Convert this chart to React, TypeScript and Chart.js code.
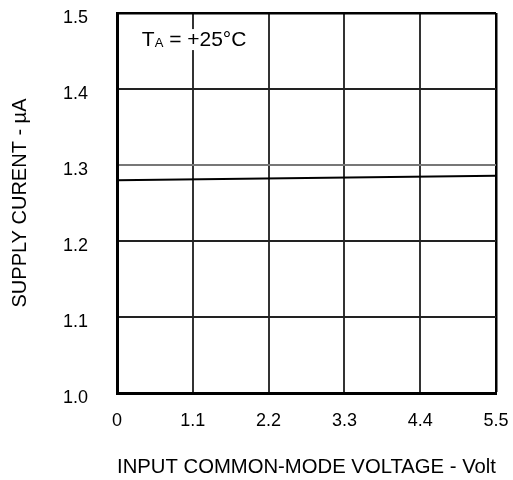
import { useEffect, useRef } from 'react';
import { Chart, registerables } from 'chart.js';

Chart.register(...registerables);

// ---- data ----
const voltage = [0, 5.5];
const supplyCurrent = [1.28, 1.286];
const xTicks = [0, 1.1, 2.2, 3.3, 4.4, 5.5];
const xTickLabels = ['0', '1.1', '2.2', '3.3', '4.4', '5.5'];
const yTicks = [1.0, 1.1, 1.2, 1.3, 1.4, 1.5];
const yTickLabels = ['1.0', '1.1', '1.2', '1.3', '1.4', '1.5'];
const xTitle = 'INPUT COMMON-MODE VOLTAGE - Volt';
const yTitle = 'SUPPLY CURENT - µA';
const noteMain = 'T';
const noteSub = 'A';
const noteRest = ' = +25°C';
const noteAt = { x: 0.36, y: 1.467 };

const FONT = "'Liberation Sans', Arial, Helvetica, sans-serif";

const notePlugin = {
  id: 'tempNote',
  afterDatasetsDraw(chart: any) {
    const { ctx, scales } = chart;
    const px = scales.x.getPixelForValue(noteAt.x);
    const py = scales.y.getPixelForValue(noteAt.y);
    ctx.save();
    ctx.font = `21px ${FONT}`;
    const w1 = ctx.measureText(noteMain).width;
    const w3 = ctx.measureText(noteRest).width;
    ctx.font = `13px ${FONT}`;
    const w2 = ctx.measureText(noteSub).width;
    ctx.fillStyle = '#fff';
    ctx.fillRect(px - 2, py - 9, w1 + w2 + w3 + 4, 21);
    ctx.fillStyle = '#000';
    ctx.textBaseline = 'alphabetic';
    ctx.textAlign = 'left';
    const base = py + 7.5;
    ctx.font = `21px ${FONT}`;
    ctx.fillText(noteMain, px, base);
    ctx.font = `13px ${FONT}`;
    ctx.fillText(noteSub, px + w1, base + 1.5);
    ctx.font = `21px ${FONT}`;
    ctx.fillText(noteRest, px + w1 + w2, base);
    ctx.restore();
  },
};

const zeroPadding = (s: any) => {
  s.paddingTop = 0;
  s.paddingBottom = 0;
  s.paddingLeft = 0;
  s.paddingRight = 0;
};

export default function App() {
  const ref = useRef<HTMLCanvasElement | null>(null);

  useEffect(() => {
    document.body.style.margin = '0';
    const canvas = ref.current;
    if (!canvas) return;
    const chart = new Chart(canvas, {
      type: 'line',
      data: {
        datasets: [
          {
            data: voltage.map((v, i) => ({ x: v, y: supplyCurrent[i] })),
            borderColor: '#000',
            borderWidth: 2,
            pointRadius: 0,
            fill: false,
            tension: 0,
          },
        ],
      },
      options: {
        responsive: false,
        animation: false,
        layout: { padding: { top: 13, right: 17, left: 0, bottom: 0 } },
        plugins: {
          legend: { display: false },
          tooltip: { enabled: false },
        },
        scales: {
          x: {
            type: 'linear',
            min: 0,
            max: 5.5,
            afterBuildTicks: (s: any) => {
              s.ticks = xTicks.map((v) => ({ value: v }));
            },
            afterFit: (s: any) => {
              s.height = 87;
              zeroPadding(s);
            },
            ticks: {
              callback: (_v: any, i: number) => xTickLabels[i],
              font: { family: FONT, size: 18 },
              color: '#000',
              padding: 17,
              maxRotation: 0,
              autoSkip: false,
            },
            grid: {
              drawTicks: false,
              color: (c: any) => (c.tick && c.tick.value === 5.5 ? '#000' : '#333'),
              lineWidth: (c: any) => (c.tick && c.tick.value === 5.5 ? 2.5 : 2),
            },
            border: { display: true, color: '#000', width: 3 },
            title: {
              display: true,
              text: xTitle,
              color: '#000',
              font: { family: FONT, size: 21 },
              padding: { top: 0, bottom: 0 },
            },
          },
          y: {
            type: 'linear',
            min: 1.0,
            max: 1.5,
            afterBuildTicks: (s: any) => {
              s.ticks = yTicks.map((v) => ({ value: v }));
            },
            afterFit: (s: any) => {
              s.width = 117;
              zeroPadding(s);
            },
            ticks: {
              callback: (_v: any, i: number) => yTickLabels[i],
              font: { family: FONT, size: 18 },
              color: '#000',
              padding: 29,
              labelOffset: 5,
              autoSkip: false,
            },
            grid: {
              drawTicks: false,
              color: (c: any) => {
                const v = c.tick ? Math.round(c.tick.value * 10) / 10 : 0;
                if (v === 1.5) return '#000';
                if (v === 1.3) return '#777';
                return '#222';
              },
              lineWidth: (c: any) => {
                const v = c.tick ? Math.round(c.tick.value * 10) / 10 : 0;
                return v === 1.5 ? 2.5 : 2;
              },
            },
            border: { display: true, color: '#000', width: 3 },
            title: {
              display: true,
              text: yTitle,
              color: '#000',
              font: { family: FONT, size: 20 },
              padding: { top: 8, bottom: 0 },
            },
          },
        },
      },
      plugins: [notePlugin],
    } as any);
    return () => chart.destroy();
  }, []);

  return <canvas ref={ref} width={513} height={480} style={{ display: 'block', width: 513, height: 480 }} />;
}
